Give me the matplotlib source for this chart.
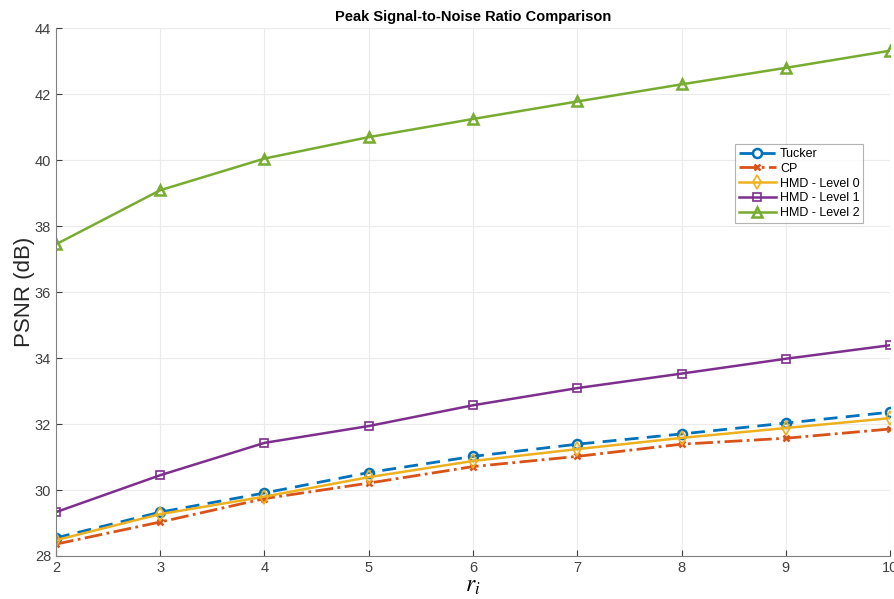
import matplotlib
matplotlib.use("Agg")
import matplotlib.pyplot as plt
import numpy as np

r = [2, 3, 4, 5, 6, 7, 8, 9, 10]
tucker = [28.55, 29.33, 29.91, 30.53, 31.02, 31.39, 31.70, 32.03, 32.36]
cp = [28.36, 29.03, 29.74, 30.21, 30.71, 31.02, 31.39, 31.57, 31.85]
hmd0 = [28.48, 29.27, 29.80, 30.39, 30.88, 31.24, 31.58, 31.88, 32.18]
hmd1 = [29.33, 30.45, 31.43, 31.94, 32.57, 33.09, 33.53, 33.98, 34.39]
hmd2 = [37.45, 39.09, 40.05, 40.70, 41.25, 41.78, 42.30, 42.80, 43.32]

plt.rcParams['font.family'] = ['Liberation Sans', 'DejaVu Sans']
plt.rcParams['mathtext.fontset'] = 'stix'

fig = plt.figure(figsize=(8.94, 5.99), dpi=100)
ax = fig.add_axes([0.0626, 0.0718, 0.933, 0.881])

ax.plot(r, tucker, color='#0072BD', ls=(0, (5, 3)), lw=2, marker='o', ms=6.5,
        mfc='none', mew=1.8, label='Tucker')
ax.plot(r, cp, color='#D95319', ls='-.', lw=2, marker='x', ms=5,
        mew=1.8, label='CP')
ax.plot(r, hmd0, color='#EDB120', ls='-', lw=1.8, marker='d', ms=7.5,
        mfc='none', mew=1.2, label='HMD - Level 0')
ax.plot(r, hmd1, color='#7E2F8E', ls='-', lw=1.8, marker='s', ms=5.5,
        mfc='none', mew=1.2, label='HMD - Level 1')
ax.plot(r, hmd2, color='#77AC30', ls='-', lw=1.8, marker='^', ms=7.5,
        mfc='none', mew=1.8, label='HMD - Level 2')

ax.set_xlim(2, 10)
ax.set_ylim(28, 44)
ax.set_xticks(r)
ax.set_yticks(np.arange(28, 45, 2))
ax.grid(True, color='#ebebeb', lw=0.8)
ax.set_axisbelow(True)
for s in ['top', 'right']:
    ax.spines[s].set_visible(False)
for s in ['left', 'bottom']:
    ax.spines[s].set_color('#808080')
ax.tick_params(colors='#404040', labelsize=10.5, direction='in', length=4)

ax.set_title('Peak Signal-to-Noise Ratio Comparison', fontsize=10.5,
             fontweight='bold', pad=5)
ax.set_ylabel('PSNR (dB)', fontsize=16, color='#262626', labelpad=0)
ax.set_xlabel('$r_i$', fontsize=17, labelpad=0)

leg = ax.legend(loc='upper left', bbox_to_anchor=(0.814, 0.78), fontsize=9,
                frameon=True, fancybox=False, borderpad=0.3, labelspacing=0.22,
                handlelength=3, handletextpad=0.3, borderaxespad=0)
leg.get_frame().set_edgecolor('#a0a0a0')
leg.get_frame().set_linewidth(0.8)

fig.savefig('out.png', dpi=100)
